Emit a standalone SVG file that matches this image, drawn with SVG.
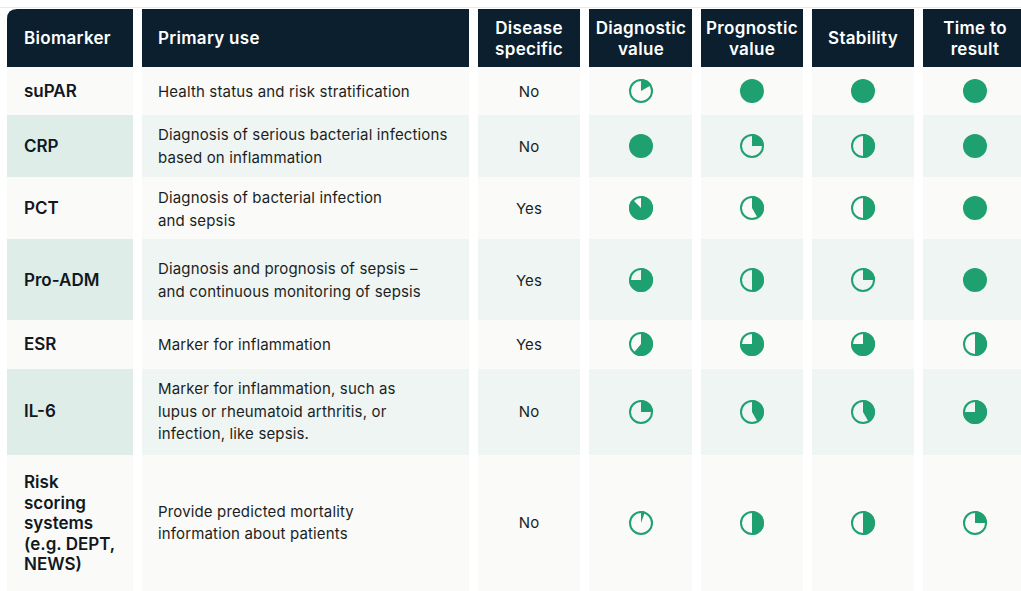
<svg xmlns="http://www.w3.org/2000/svg" width="1021" height="591" viewBox="0 0 1021 591">
<style>
.hd{fill:#0b1f2e}
.lt{fill:#fafaf9}
.al{fill:#eff5f3}
.bk{fill:#deede8}
.ht{font-family:Inter,"Liberation Sans",sans-serif;font-size:17px;font-weight:600;letter-spacing:0.3px;fill:#ffffff}
.c{text-anchor:middle}
.bm{font-family:Inter,"Liberation Sans",sans-serif;font-size:17px;font-weight:600;fill:#111820}
.tx{font-family:Inter,"Liberation Sans",sans-serif;font-size:15px;font-weight:400;letter-spacing:0.15px;fill:#1c1f22}
.ring{fill:none;stroke:#1fa070;stroke-width:2}
.pie{fill:#1fa070}
</style>
<rect x="0" y="0" width="1021" height="591" fill="#ffffff"/>
<line x1="0" y1="7.5" x2="1021" y2="7.5" stroke="#e8eaec" stroke-width="1"/>

<g id="header">
<path class="hd" d="M7 19 Q7 9 17 9 L133 9 L133 67 L7 67 Z"/>
<rect class="hd" x="142" y="9" width="327" height="58"/>
<rect class="hd" x="478" y="9" width="102" height="58"/>
<rect class="hd" x="589" y="9" width="103" height="58"/>
<rect class="hd" x="701" y="9" width="102" height="58"/>
<rect class="hd" x="812" y="9" width="102" height="58"/>
<rect class="hd" x="923" y="9" width="104" height="58"/>
<text class="ht" x="24" y="44">Biomarker</text>
<text class="ht" x="158" y="44">Primary use</text>
<text class="ht c" x="529" y="34">Disease</text>
<text class="ht c" x="529" y="55">specific</text>
<text class="ht c" x="641" y="34">Diagnostic</text>
<text class="ht c" x="641" y="55">value</text>
<text class="ht c" x="752" y="34">Prognostic</text>
<text class="ht c" x="752" y="55">value</text>
<text class="ht c" x="863" y="44">Stability</text>
<text class="ht c" x="975" y="34">Time to</text>
<text class="ht c" x="975" y="55">result</text>
</g>

<g id="row-supar">
<rect class="lt" x="7" y="67" width="126" height="48"/>
<rect class="lt" x="142" y="67" width="327" height="48"/>
<rect class="lt" x="478" y="67" width="102" height="48"/>
<rect class="lt" x="589" y="67" width="103" height="48"/>
<rect class="lt" x="701" y="67" width="102" height="48"/>
<rect class="lt" x="812" y="67" width="102" height="48"/>
<rect class="lt" x="923" y="67" width="104" height="48"/>
<text class="bm" x="24" y="97">suPAR</text>
<text class="tx" x="158" y="96.5">Health status and risk stratification</text>
<text class="tx c" x="529" y="96.5">No</text>
<circle class="ring" cx="641" cy="91" r="11"/>
<path class="pie" d="M641 91 L641 79 A12 12 0 0 1 651.39 85 Z"/>
<circle class="pie" cx="752" cy="91" r="12"/>
<circle class="pie" cx="863" cy="91" r="12"/>
<circle class="pie" cx="975" cy="91" r="12"/>
</g>

<g id="row-crp">
<rect class="bk" x="7" y="115" width="126" height="62"/>
<rect class="al" x="142" y="115" width="327" height="62"/>
<rect class="al" x="478" y="115" width="102" height="62"/>
<rect class="al" x="589" y="115" width="103" height="62"/>
<rect class="al" x="701" y="115" width="102" height="62"/>
<rect class="al" x="812" y="115" width="102" height="62"/>
<rect class="al" x="923" y="115" width="104" height="62"/>
<text class="bm" x="24" y="152">CRP</text>
<text class="tx" x="158" y="140">Diagnosis of serious bacterial infections</text>
<text class="tx" x="158" y="163">based on inflammation</text>
<text class="tx c" x="529" y="151.5">No</text>
<circle class="pie" cx="641" cy="146" r="12"/>
<circle class="ring" cx="752" cy="146" r="11"/>
<path class="pie" d="M752 146 L752 134 A12 12 0 0 1 764 146 Z"/>
<circle class="ring" cx="863" cy="146" r="11"/>
<path class="pie" d="M863 146 L863 134 A12 12 0 0 1 863 158 Z"/>
<circle class="pie" cx="975" cy="146" r="12"/>
</g>

<g id="row-pct">
<rect class="lt" x="7" y="177" width="126" height="62"/>
<rect class="lt" x="142" y="177" width="327" height="62"/>
<rect class="lt" x="478" y="177" width="102" height="62"/>
<rect class="lt" x="589" y="177" width="103" height="62"/>
<rect class="lt" x="701" y="177" width="102" height="62"/>
<rect class="lt" x="812" y="177" width="102" height="62"/>
<rect class="lt" x="923" y="177" width="104" height="62"/>
<text class="bm" x="24" y="214">PCT</text>
<text class="tx" x="158" y="202.5">Diagnosis of bacterial infection</text>
<text class="tx" x="158" y="225.5">and sepsis</text>
<text class="tx c" x="529" y="213.5">Yes</text>
<circle class="ring" cx="641" cy="208" r="11"/>
<path class="pie" d="M641 208 L641 196 A12 12 0 1 1 632.51 199.51 Z"/>
<circle class="ring" cx="752" cy="208" r="11"/>
<path class="pie" d="M752 208 L752 196 A12 12 0 0 1 758 218.39 Z"/>
<circle class="ring" cx="863" cy="208" r="11"/>
<path class="pie" d="M863 208 L863 196 A12 12 0 0 1 863 220 Z"/>
<circle class="pie" cx="975" cy="208" r="12"/>
</g>

<g id="row-proadm">
<rect class="bk" x="7" y="239" width="126" height="81"/>
<rect class="al" x="142" y="239" width="327" height="81"/>
<rect class="al" x="478" y="239" width="102" height="81"/>
<rect class="al" x="589" y="239" width="103" height="81"/>
<rect class="al" x="701" y="239" width="102" height="81"/>
<rect class="al" x="812" y="239" width="102" height="81"/>
<rect class="al" x="923" y="239" width="104" height="81"/>
<text class="bm" x="24" y="286">Pro-ADM</text>
<text class="tx" x="158" y="273.5">Diagnosis and prognosis of sepsis –</text>
<text class="tx" x="158" y="296.5">and continuous monitoring of sepsis</text>
<text class="tx c" x="529" y="285.5">Yes</text>
<circle class="ring" cx="641" cy="280" r="11"/>
<path class="pie" d="M641 280 L641 268 A12 12 0 1 1 629 280 Z"/>
<circle class="ring" cx="752" cy="280" r="11"/>
<path class="pie" d="M752 280 L752 268 A12 12 0 0 1 752 292 Z"/>
<circle class="ring" cx="863" cy="280" r="11"/>
<path class="pie" d="M863 280 L863 268 A12 12 0 0 1 875 280 Z"/>
<circle class="pie" cx="975" cy="280" r="12"/>
</g>

<g id="row-esr">
<rect class="lt" x="7" y="320" width="126" height="49"/>
<rect class="lt" x="142" y="320" width="327" height="49"/>
<rect class="lt" x="478" y="320" width="102" height="49"/>
<rect class="lt" x="589" y="320" width="103" height="49"/>
<rect class="lt" x="701" y="320" width="102" height="49"/>
<rect class="lt" x="812" y="320" width="102" height="49"/>
<rect class="lt" x="923" y="320" width="104" height="49"/>
<text class="bm" x="24" y="350">ESR</text>
<text class="tx" x="158" y="349.5">Marker for inflammation</text>
<text class="tx c" x="529" y="349.5">Yes</text>
<circle class="ring" cx="641" cy="344" r="11"/>
<path class="pie" d="M641 344 L641 332 A12 12 0 1 1 633.29 353.19 Z"/>
<circle class="ring" cx="752" cy="344" r="11"/>
<path class="pie" d="M752 344 L752 332 A12 12 0 1 1 740 344 Z"/>
<circle class="ring" cx="863" cy="344" r="11"/>
<path class="pie" d="M863 344 L863 332 A12 12 0 1 1 851 344 Z"/>
<circle class="ring" cx="975" cy="344" r="11"/>
<path class="pie" d="M975 344 L975 332 A12 12 0 0 1 975 356 Z"/>
</g>

<g id="row-il6">
<rect class="bk" x="7" y="369" width="126" height="86"/>
<rect class="al" x="142" y="369" width="327" height="86"/>
<rect class="al" x="478" y="369" width="102" height="86"/>
<rect class="al" x="589" y="369" width="103" height="86"/>
<rect class="al" x="701" y="369" width="102" height="86"/>
<rect class="al" x="812" y="369" width="102" height="86"/>
<rect class="al" x="923" y="369" width="104" height="86"/>
<text class="bm" x="24" y="417">IL-6</text>
<text class="tx" x="158" y="394">Marker for inflammation, such as</text>
<text class="tx" x="158" y="416.7">lupus or rheumatoid arthritis, or</text>
<text class="tx" x="158" y="439.4">infection, like sepsis.</text>
<text class="tx c" x="529" y="417">No</text>
<circle class="ring" cx="641" cy="412" r="11"/>
<path class="pie" d="M641 412 L641 400 A12 12 0 0 1 653 412 Z"/>
<circle class="ring" cx="752" cy="412" r="11"/>
<path class="pie" d="M752 412 L752 400 A12 12 0 0 1 758 422.39 Z"/>
<circle class="ring" cx="863" cy="412" r="11"/>
<path class="pie" d="M863 412 L863 400 A12 12 0 0 1 869 422.39 Z"/>
<circle class="ring" cx="975" cy="412" r="11"/>
<path class="pie" d="M975 412 L975 400 A12 12 0 1 1 963 412 Z"/>
</g>

<g id="row-risk">
<rect class="lt" x="7" y="455" width="126" height="136"/>
<rect class="lt" x="142" y="455" width="327" height="136"/>
<rect class="lt" x="478" y="455" width="102" height="136"/>
<rect class="lt" x="589" y="455" width="103" height="136"/>
<rect class="lt" x="701" y="455" width="102" height="136"/>
<rect class="lt" x="812" y="455" width="102" height="136"/>
<rect class="lt" x="923" y="455" width="104" height="136"/>
<text class="bm" x="24" y="488">Risk</text>
<text class="bm" x="24" y="508.5">scoring</text>
<text class="bm" x="24" y="529">systems</text>
<text class="bm" x="24" y="549.5">(e.g. DEPT,</text>
<text class="bm" x="24" y="570">NEWS)</text>
<text class="tx" x="158" y="516.7">Provide predicted mortality</text>
<text class="tx" x="158" y="539.4">information about patients</text>
<text class="tx c" x="529" y="528">No</text>
<circle class="ring" cx="641" cy="523" r="11"/>
<path class="pie" d="M641 523 L641 511 A12 12 0 0 1 645.1 511.72 Z"/>
<circle class="ring" cx="752" cy="523" r="11"/>
<path class="pie" d="M752 523 L752 511 A12 12 0 0 1 752 535 Z"/>
<circle class="ring" cx="863" cy="523" r="11"/>
<path class="pie" d="M863 523 L863 511 A12 12 0 0 1 863 535 Z"/>
<circle class="ring" cx="975" cy="523" r="11"/>
<path class="pie" d="M975 523 L975 511 A12 12 0 0 1 987 523 Z"/>
</g>
</svg>
